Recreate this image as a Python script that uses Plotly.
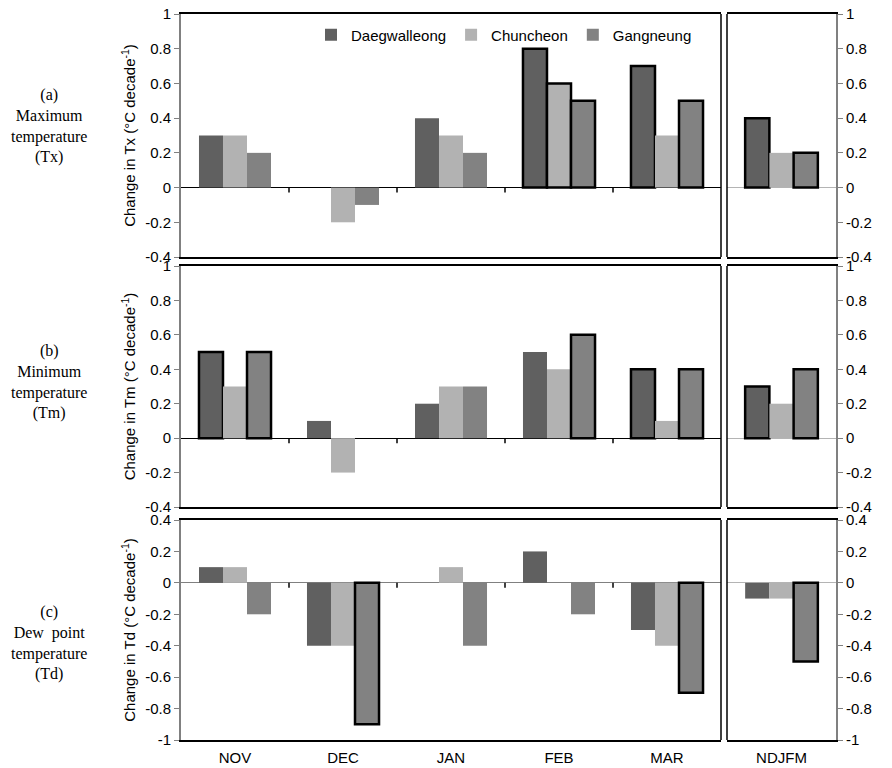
import plotly.graph_objects as go

months = ["NOV", "DEC", "JAN", "FEB", "MAR"]
season = ["NDJFM"]
stations = ["Daegwalleong", "Chuncheon", "Gangneung"]
station_colors = ["#606060", "#b2b2b2", "#828282"]

# Tx (maximum temperature) change, °C/decade
tx_dae = [0.3, 0.0, 0.4, 0.8, 0.7]
tx_chu = [0.3, -0.2, 0.3, 0.6, 0.3]
tx_gan = [0.2, -0.1, 0.2, 0.5, 0.5]
tx_season = [0.4, 0.2, 0.2]
tx_sig = [[0, 0, 0, 1, 1], [0, 0, 0, 1, 0], [0, 0, 0, 1, 1]]
tx_season_sig = [1, 0, 1]

# Tm (minimum temperature)
tm_dae = [0.5, 0.1, 0.2, 0.5, 0.4]
tm_chu = [0.3, -0.2, 0.3, 0.4, 0.1]
tm_gan = [0.5, 0.0, 0.3, 0.6, 0.4]
tm_season = [0.3, 0.2, 0.4]
tm_sig = [[1, 0, 0, 0, 1], [0, 0, 0, 0, 0], [1, 0, 0, 1, 1]]
tm_season_sig = [1, 0, 1]

# Td (dew point temperature)
td_dae = [0.1, -0.4, 0.0, 0.2, -0.3]
td_chu = [0.1, -0.4, 0.1, 0.0, -0.4]
td_gan = [-0.2, -0.9, -0.4, -0.2, -0.7]
td_season = [-0.1, -0.1, -0.5]
td_sig = [[0, 0, 0, 0, 0], [0, 0, 0, 0, 0], [0, 1, 0, 0, 1]]
td_season_sig = [0, 0, 1]

temp_ticks = [1, 0.8, 0.6, 0.4, 0.2, 0, -0.2, -0.4]
temp_tick_text = ["1", "0.8", "0.6", "0.4", "0.2", "0", "-0.2", "-0.4"]
dew_ticks = [0.4, 0.2, 0, -0.2, -0.4, -0.6, -0.8, -1]
dew_tick_text = ["0.4", "0.2", "0", "-0.2", "-0.4", "-0.6", "-0.8", "-1"]

rows = [
    dict(vals=[tx_dae, tx_chu, tx_gan], season=tx_season, sig=tx_sig, ssig=tx_season_sig,
         title="Change in Tx (°C decade<sup>-1</sup>)", range=[-0.4, 1],
         ticks=temp_ticks, ticktext=temp_tick_text,
         label="(a)<br>Maximum<br>temperature<br>(Tx)", zc="#000000"),
    dict(vals=[tm_dae, tm_chu, tm_gan], season=tm_season, sig=tm_sig, ssig=tm_season_sig,
         title="Change in Tm (°C decade<sup>-1</sup>)", range=[-0.4, 1],
         ticks=temp_ticks, ticktext=temp_tick_text,
         label="(b)<br>Minimum<br>temperature<br>(Tm)", zc="#000000"),
    dict(vals=[td_dae, td_chu, td_gan], season=td_season, sig=td_sig, ssig=td_season_sig,
         title="Change in Td (°C decade<sup>-1</sup>)", range=[-1, 0.4],
         ticks=dew_ticks, ticktext=dew_tick_text,
         label="(c)<br>Dew  point<br>temperature<br>(Td)", zc="#808080"),
]

# page has an 8px body margin; figure is sized to fit the 892x768 window
OFF = 8
W, H = 892 - OFF, 768 - OFF

def px_x(p):
    return (p - OFF) / W

def px_y(p):
    return 1 - (p - OFF) / H

main_dom = [px_x(181), px_x(721)]
right_dom = [px_x(727), px_x(836)]
row_px = [(14, 257), (266, 507), (520, 740)]
label_center_px = [126, 382, 643]

FONT = "Liberation Sans, Arial, sans-serif"
fig = go.Figure()
layout = dict(
    width=W, height=H, margin=dict(l=0, r=0, t=0, b=0, autoexpand=False),
    paper_bgcolor="white", plot_bgcolor="white",
    barmode="group", bargap=0.333, bargroupgap=0,
    font=dict(family=FONT, size=15, color="#000000"),
    showlegend=True,
    legend=dict(orientation="h", x=px_x(697), xanchor="right", y=px_y(35), yanchor="middle",
                bgcolor="rgba(0,0,0,0)", font=dict(size=15), traceorder="normal"),
)
shapes = []
annotations = []

def lw(flags):
    return [2.5 if f else 0 for f in flags]

def lc(flags, col):
    return ["#000000" if f else col for f in flags]

def sfx(i):
    return "" if i == 1 else str(i)

for r, row in enumerate(rows):
    mi = sfx(2 * r + 1)
    ri = sfx(2 * r + 2)
    top, bot = row_px[r]
    ydom = [px_y(bot), px_y(top)]
    for s, st in enumerate(stations):
        col = station_colors[s]
        fig.add_trace(go.Bar(
            x=months, y=row["vals"][s], name=st, legendgroup=st, showlegend=(r == 0),
            marker=dict(color=col, line=dict(width=lw(row["sig"][s]), color=lc(row["sig"][s], col))),
            xaxis=f"x{mi}", yaxis=f"y{mi}"))
        fig.add_trace(go.Bar(
            x=season, y=[row["season"][s]], name=st, legendgroup=st, showlegend=False,
            marker=dict(color=col, line=dict(width=lw([row["ssig"][s]]), color=lc([row["ssig"][s]], col))),
            xaxis=f"x{ri}", yaxis=f"y{ri}"))
    bottom = (r == 2)
    for idx, dom in ((mi, main_dom), (ri, right_dom)):
        layout[f"xaxis{idx}"] = dict(
            domain=dom, anchor=f"y{idx}", showline=True, linecolor="#000000", linewidth=1.5,
            mirror=True, ticks="", showticklabels=bottom, showgrid=False, zeroline=False,
            tickfont=dict(size=15), fixedrange=True, automargin=False, ticklabelstandoff=3)
    common_y = dict(
        domain=ydom, range=row["range"], tickvals=row["ticks"], ticktext=row["ticktext"],
        ticks="outside", ticklen=5, tickcolor="#808080", tickwidth=1,
        showline=True, linecolor="#808080", linewidth=2, showgrid=False,
        zeroline=True, zerolinewidth=1, tickfont=dict(size=15), fixedrange=True,
        automargin=False, ticklabeloverflow="allow")
    layout[f"yaxis{mi}"] = dict(common_y, anchor=f"x{mi}", side="left", zerolinecolor=row["zc"],
                                title=dict(text=row["title"], font=dict(size=15), standoff=6))
    layout[f"yaxis{ri}"] = dict(common_y, anchor=f"x{ri}", side="right", zerolinecolor="#b4b4b4")
    # right border of main panel, left border of season panel
    shapes.append(dict(type="line", xref=f"x{mi} domain", yref=f"y{mi} domain",
                       x0=1, x1=1, y0=0, y1=1, line=dict(color="#000000", width=1.5)))
    shapes.append(dict(type="line", xref=f"x{ri} domain", yref=f"y{ri} domain",
                       x0=0, x1=0, y0=0, y1=1, line=dict(color="#000000", width=1.5)))
    # category separator ticks on the zero line
    for k in range(len(months) - 1):
        shapes.append(dict(type="line", xref=f"x{mi}", yref=f"y{mi}", ysizemode="pixel",
                           yanchor=0, x0=k + 0.5, x1=k + 0.5, y0=0, y1=-5,
                           line=dict(color="#000000", width=1.5)))
    annotations.append(dict(
        text=row["label"], xref="paper", yref="paper", x=px_x(49), y=px_y(label_center_px[r]),
        xanchor="center", yanchor="middle", showarrow=False, align="center",
        font=dict(family="Liberation Serif, Times New Roman, serif", size=16, color="#000000")))

layout["shapes"] = shapes
layout["annotations"] = annotations
fig.update_layout(**layout)
fig.write_html("out.html")
